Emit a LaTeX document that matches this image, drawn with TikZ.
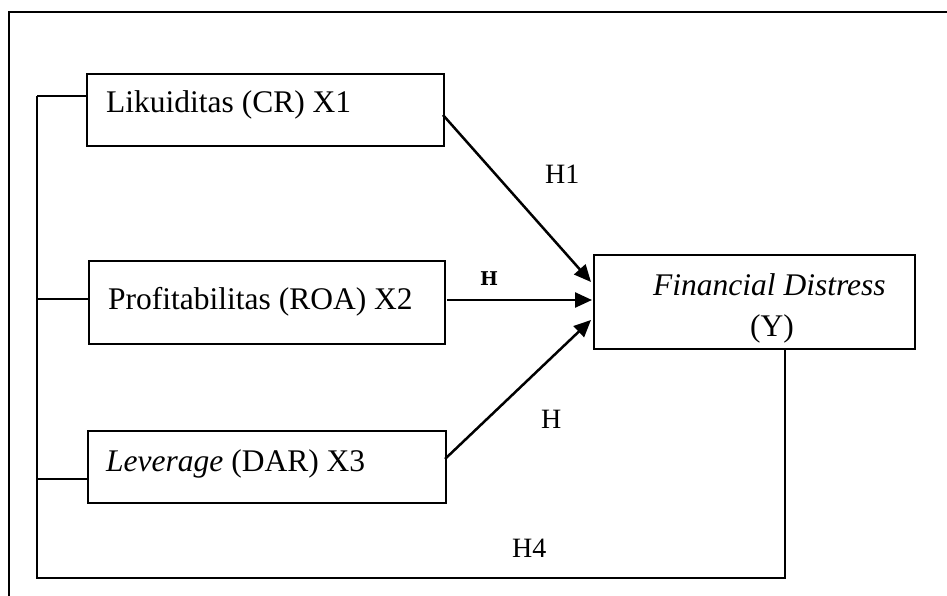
\documentclass[tikz,border=0pt]{standalone}
\usepackage{fontspec}
\setmainfont{Liberation Serif}
\newfontfamily\smallHfont{DejaVu Serif}
\usetikzlibrary{arrows.meta}
\begin{document}
\begin{tikzpicture}[x=1pt,y=-1pt,
  box/.style={draw,line width=2.3pt,rectangle,inner sep=0pt,anchor=north west},
  lbl/.style={inner sep=0pt,anchor=base west,font=\fontsize{31.5}{38}\selectfont},
  hlbl/.style={inner sep=0pt,anchor=base west,font=\fontsize{28}{34}\selectfont},
  conn/.style={line width=1.9pt},
  arr/.style={line width=2.5pt,-{Triangle[length=17pt,width=15pt]}}]
\useasboundingbox (0,0) rectangle (947,596);
% outer frame (top and left edges)
\coordinate (fTL) at (9,12);
\coordinate (fTR) at (947,12);
\coordinate (fBL) at (9,596);
\draw[line width=2.2pt] (fTR) -- (fTL) -- (fBL);
% boxes
\node[box,minimum width=357pt,minimum height=72pt] (b1) at (86,73) {};
\node[box,minimum width=356pt,minimum height=83pt] (b2) at (88,260) {};
\node[box,minimum width=358pt,minimum height=72pt] (b3) at (87,430) {};
\node[box,minimum width=321pt,minimum height=94pt] (fd) at (593,254) {};
% texts
\node[lbl] (t1) at (106,113) {Likuiditas (CR) X1};
\node[lbl] (t2) at (108,309) {Profitabilitas (ROA) X2};
\node[lbl] (t3) at (106,471) {\textit{Leverage} (DAR) X3};
\node[lbl] (t4) at (653,295) {\textit{Financial Distress}};
\node[lbl] (t5) at (750,336) {(Y)};
\node[hlbl] (h1) at (545,183) {H1};
\node[inner sep=0pt,anchor=base west,font=\smallHfont\bfseries\fontsize{19}{23}\selectfont] (h2) at (480,285) {H};
\node[hlbl] (h3) at (541,428) {H};
\node[hlbl] (h4) at (512,557) {H4};
% bracket
\coordinate (k1) at (37,96);
\coordinate (k2) at (37,299);
\coordinate (k3) at (37,479);
\coordinate (kb) at (37,578);
\coordinate (kr) at (785,578);
\draw[conn] (k1) -- (kb) -- (kr) -- (fd.south -| kr);
\draw[conn] (k1) -- (k1 -| b1.west);
\draw[conn] (k2) -- (k2 -| b2.west);
\draw[conn] (k3) -- (k3 -| b3.west);
% arrows
\coordinate (a1s) at (443,115);
\coordinate (a1e) at (591,282);
\coordinate (a2s) at (447,300);
\coordinate (a2e) at (592,300);
\coordinate (a3s) at (445,459);
\coordinate (a3e) at (591,320);
\draw[arr] (a1s) -- (a1e);
\draw[arr] (a2s) -- (a2e);
\draw[arr] (a3s) -- (a3e);
\end{tikzpicture}
\end{document}
